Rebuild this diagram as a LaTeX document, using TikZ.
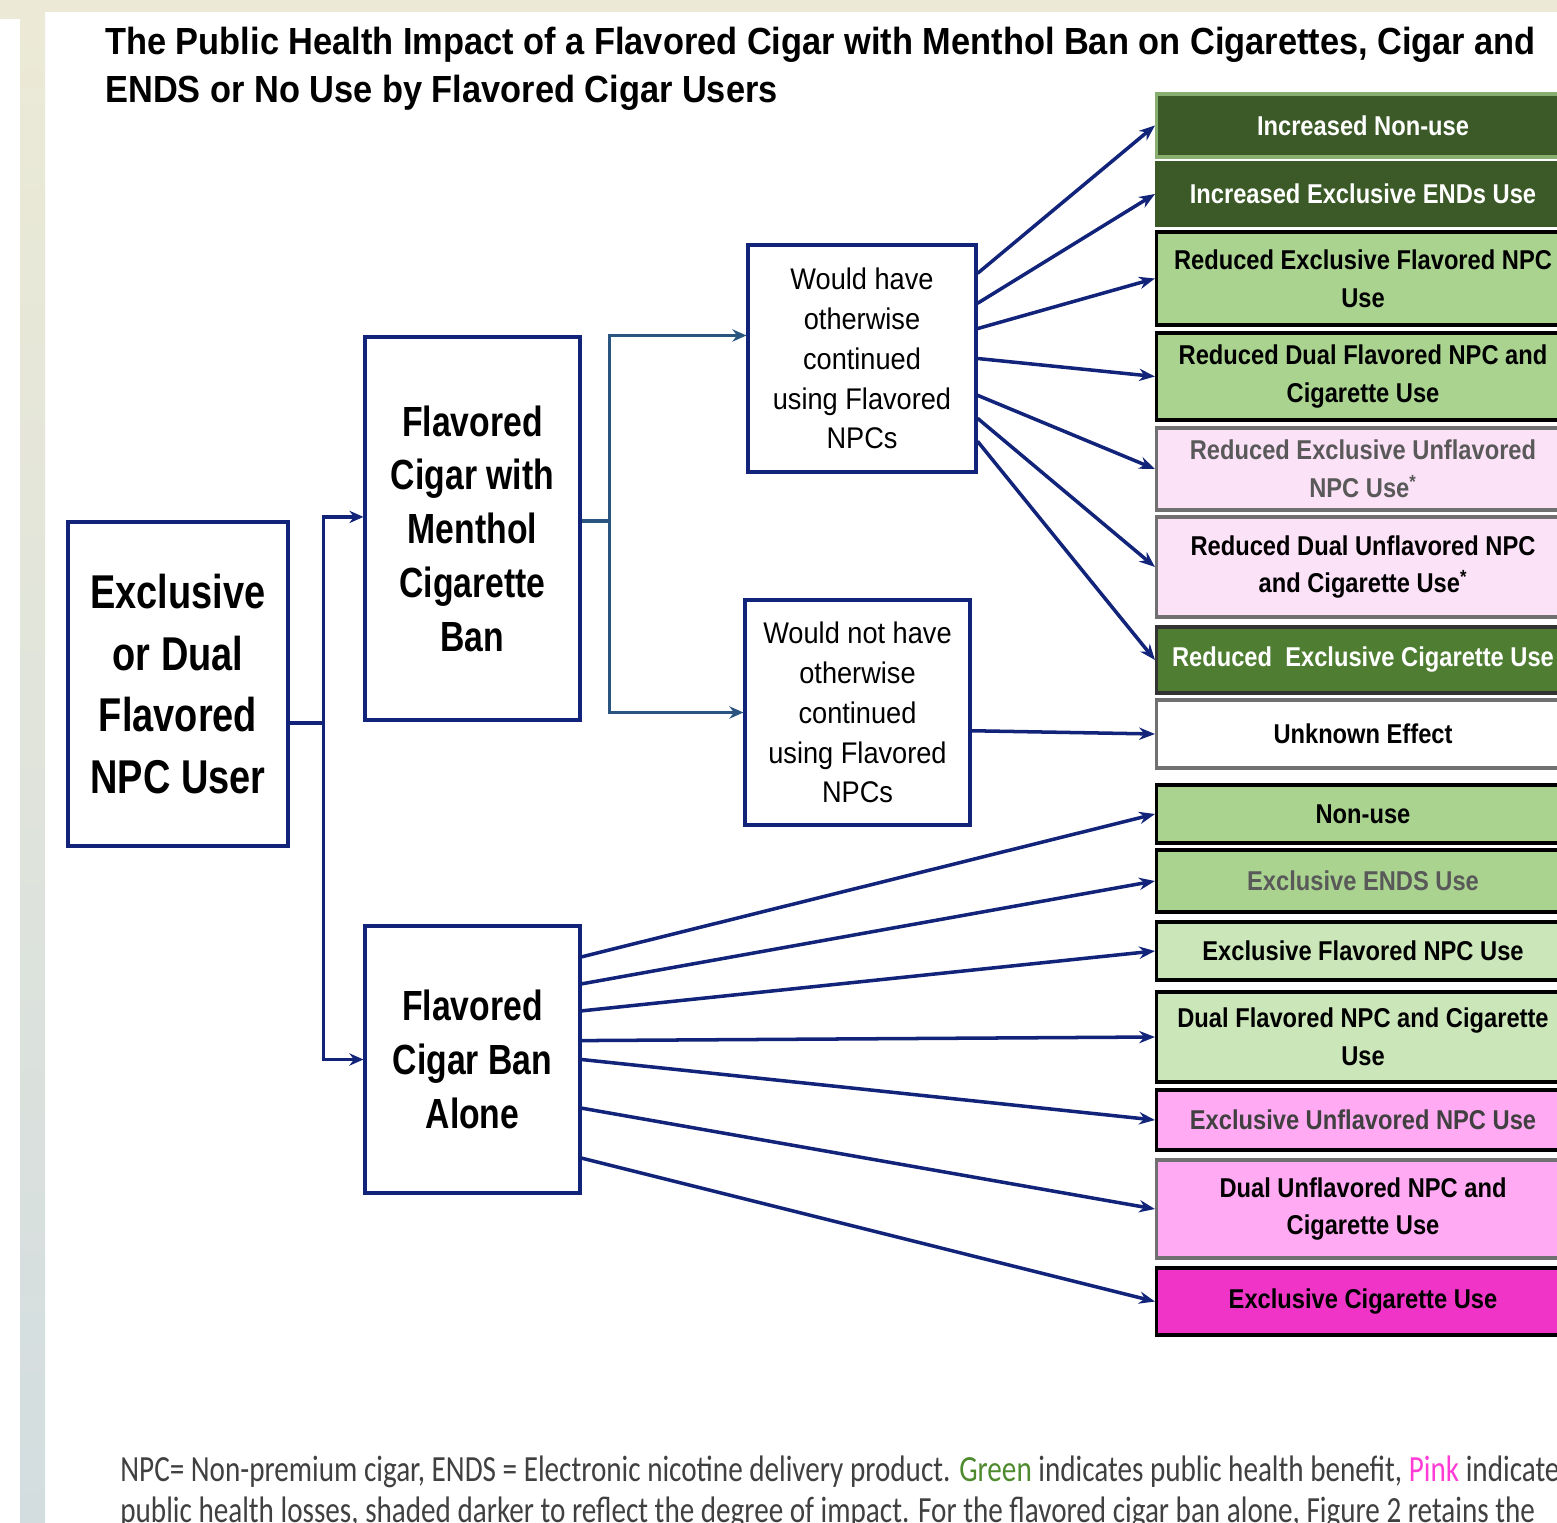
\documentclass[tikz,border=0pt]{standalone}
\usepackage{fontspec}
\setmainfont{Liberation Sans}[FakeStretch=0.8]
\newfontfamily\widesans{Liberation Sans}[FakeStretch=0.91]
\newfontfamily\boxsans{Liberation Sans}[FakeStretch=0.87]
\newfontfamily\notefont{Carlito}[FakeStretch=0.79]
\usetikzlibrary{arrows.meta,calc}

\definecolor{navy}{HTML}{12237A}
\definecolor{steel}{HTML}{2A5580}
\definecolor{framebg}{HTML}{ECEAD6}
\definecolor{framelow}{HTML}{D3DDE0}
\definecolor{darkgreen}{HTML}{3C5A28}
\definecolor{midgreen}{HTML}{4F7E33}
\definecolor{lightgreen}{HTML}{A9D38F}
\definecolor{palegreen}{HTML}{CBE6B9}
\definecolor{palepink}{HTML}{FCE2F7}
\definecolor{midpink}{HTML}{FFAAF2}
\definecolor{hotpink}{HTML}{F034C8}
\definecolor{boxgray}{HTML}{707070}
\definecolor{notegray}{HTML}{404040}
\definecolor{notegreen}{HTML}{4E8A2E}
\definecolor{notepink}{HTML}{FF3CD6}

\tikzset{
  stage/.style={draw=navy, line width=1.8pt, fill=white, inner sep=0pt, align=center},
  outcome/.style={line width=1.8pt, inner sep=0pt, minimum width=8.26cm, align=center,
    font=\boxsans\fontsize{15.5}{21.5}\selectfont\bfseries},
  arr/.style={draw=navy, line width=2pt, -{Stealth[length=9pt,width=7pt]}},
  elbow/.style={draw=navy, line width=2pt, -{Stealth[length=8pt,width=7pt]}},
}

\begin{document}
\begin{tikzpicture}[x=0.02cm, y=-0.02cm]

	\useasboundingbox (0,0) rectangle (1557,1523);
	\clip (0,0) rectangle (1557,1523);
	\fill[framebg] (0,0) rectangle (1557,1523);
	\fill[white] (45,12) rectangle (1557,1523);
	\fill[white] (0,19) rectangle (20,1523);
	\shade[top color=framebg, bottom color=framelow] (20,12) rectangle (45,1523);

	\node[anchor=north west, inner sep=0pt, align=left, font=\widesans\fontsize{21.5}{27}\selectfont\bfseries] (title) at (105,27)
		{The Public Health Impact of a Flavored Cigar with Menthol Ban on Cigarettes, Cigar and\\ENDS or No Use by Flavored Cigar Users};

	% stages
	\node[stage, minimum width=4.4cm, minimum height=6.48cm, font=\fontsize{27}{35}\selectfont\bfseries] (u) at (178,684)
		{Exclusive\\or Dual\\Flavored\\NPC User};
	\node[stage, minimum width=4.3cm, minimum height=7.66cm, font=\fontsize{24}{30.6}\selectfont\bfseries] (m) at (472.5,528.5)
		{Flavored\\Cigar with\\Menthol\\Cigarette\\Ban};
	\node[stage, minimum width=4.3cm, minimum height=5.34cm, font=\fontsize{24}{30.6}\selectfont\bfseries] (a) at (472.5,1059.5)
		{Flavored\\Cigar Ban\\Alone};
	\node[stage, minimum width=4.56cm, minimum height=4.54cm, font=\widesans\fontsize{17}{22.7}\selectfont] (wh) at (862,358.5)
		{Would have\\otherwise\\continued\\using Flavored\\NPCs};
	\node[stage, minimum width=4.5cm, minimum height=4.5cm, font=\widesans\fontsize{17}{22.7}\selectfont] (wn) at (857.5,712.5)
		{Would not have\\otherwise\\continued\\using Flavored\\NPCs};

	% outcomes
	\node[outcome, fill=darkgreen, draw=lightgreen!70!darkgreen, text=white, minimum height=1.26cm] (r1) at (1363,125.5) {Increased Non-use};
	\node[outcome, fill=darkgreen, draw=darkgreen, text=white, minimum height=1.24cm] (r2) at (1363,194) {Increased Exclusive ENDs Use};
	\node[outcome, fill=lightgreen, draw=black, minimum height=1.86cm] (r3) at (1363,278.5) {Reduced Exclusive Flavored NPC\\Use};
	\node[outcome, fill=lightgreen, draw=black, minimum height=1.74cm] (r4) at (1363,376.5) {Reduced Dual Flavored NPC and\\Cigarette Use};
	\node[outcome, fill=palepink, draw=boxgray, text=black!65, minimum height=1.64cm] (r5) at (1363,469) {Reduced Exclusive Unflavored\\NPC Use\textsuperscript{*}};
	\node[outcome, fill=palepink, draw=boxgray, minimum height=2.0cm] (r6) at (1363,567) {Reduced Dual Unflavored NPC\\and Cigarette Use\textsuperscript{*}};
	\node[outcome, fill=midgreen, draw=black!80, text=white, minimum height=1.32cm] (r7) at (1363,660) {Reduced\ \ Exclusive Cigarette Use};
	\node[outcome, fill=white, draw=boxgray, minimum height=1.36cm] (r8) at (1363,734) {Unknown Effect};
	\node[outcome, fill=lightgreen, draw=black, minimum height=1.16cm] (r9) at (1363,814) {Non-use};
	\node[outcome, fill=lightgreen, draw=black, text=black!65, minimum height=1.24cm] (r10) at (1363,881) {Exclusive ENDS Use};
	\node[outcome, fill=palegreen, draw=black, minimum height=1.16cm] (r11) at (1363,951) {Exclusive Flavored NPC Use};
	\node[outcome, fill=palegreen, draw=black, minimum height=1.8cm] (r12) at (1363,1037) {Dual Flavored NPC and Cigarette\\Use};
	\node[outcome, fill=midpink, draw=black, text=black!75, minimum height=1.2cm] (r13) at (1363,1120) {Exclusive Unflavored NPC Use};
	\node[outcome, fill=midpink, draw=boxgray, minimum height=1.96cm] (r14) at (1363,1209) {Dual Unflavored NPC and\\Cigarette Use};
	\node[outcome, fill=hotpink, draw=black, minimum height=1.34cm] (r15) at (1363,1301.5) {Exclusive Cigarette Use};

	% branches
	\draw[elbow] ($(u.north east)!0.62!(u.south east)$) -- ++(34,0) |- ($(m.north west)!0.47!(m.south west)$);
	\draw[elbow] ($(u.north east)!0.62!(u.south east)$) -- ++(34,0) |- (a.west);
	\draw[elbow, draw=steel] ($(m.north east)!0.48!(m.south east)$) -- ++(28,0) |- ($(wh.north west)!0.4!(wh.south west)$);
	\draw[elbow, draw=steel] ($(m.north east)!0.48!(m.south east)$) -- ++(28,0) |- (wn.west);

	\draw[arr] ($(wh.north east)!0.13!(wh.south east)$) -- (r1.west);
	\draw[arr] ($(wh.north east)!0.26!(wh.south east)$) -- (r2.west);
	\draw[arr] ($(wh.north east)!0.37!(wh.south east)$) -- (r3.west);
	\draw[arr] ($(wh.north east)!0.5!(wh.south east)$) -- (r4.west);
	\draw[arr] ($(wh.north east)!0.66!(wh.south east)$) -- (r5.west);
	\draw[arr] ($(wh.north east)!0.76!(wh.south east)$) -- (r6.west);
	\draw[arr] ($(wh.north east)!0.86!(wh.south east)$) -- (r7.west);
	\draw[arr] ($(wn.north east)!0.58!(wn.south east)$) -- (r8.west);

	\draw[arr] ($(a.north east)!0.12!(a.south east)$) -- (r9.west);
	\draw[arr] ($(a.north east)!0.22!(a.south east)$) -- (r10.west);
	\draw[arr] ($(a.north east)!0.32!(a.south east)$) -- (r11.west);
	\draw[arr] ($(a.north east)!0.43!(a.south east)$) -- (r12.west);
	\draw[arr] ($(a.north east)!0.5!(a.south east)$) -- (r13.west);
	\draw[arr] ($(a.north east)!0.68!(a.south east)$) -- (r14.west);
	\draw[arr] ($(a.north east)!0.865!(a.south east)$) -- (r15.west);

	\node[anchor=north west, inner sep=0pt, align=left, text=notegray, font=\notefont\fontsize{21}{23}\selectfont] (note) at (120,1456)
		{NPC= Non-premium cigar, ENDS = Electronic nicotine delivery product. \textcolor{notegreen}{Green} indicates public health benefit, \textcolor{notepink}{Pink} indicate\\public health losses, shaded darker to reflect the degree of impact. For the flavored cigar ban alone, Figure 2 retains the};

\end{tikzpicture}
\end{document}
